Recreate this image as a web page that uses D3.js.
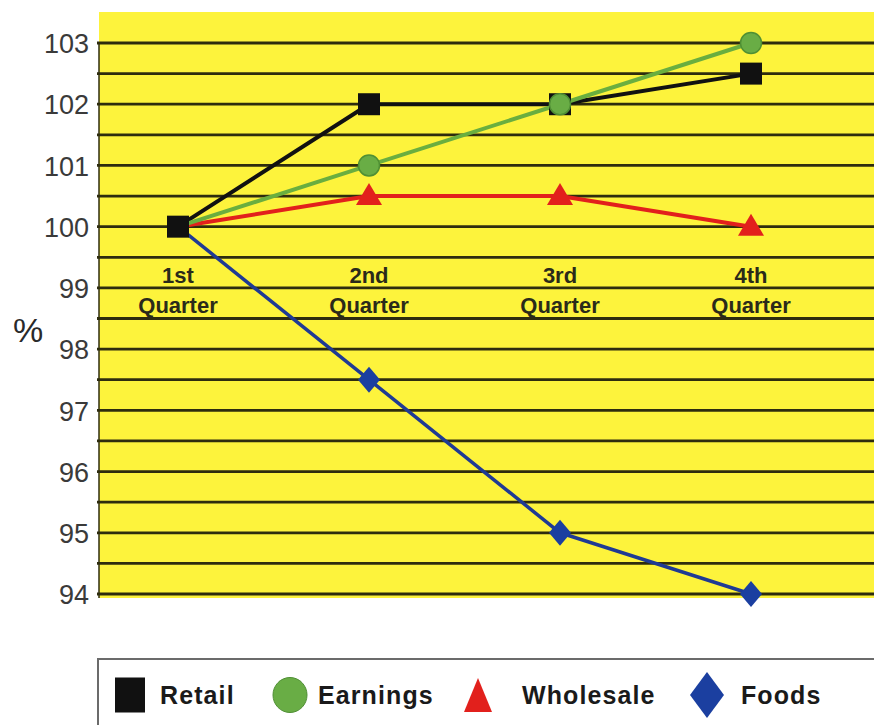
<!DOCTYPE html>
<html>
<head>
<meta charset="utf-8">
<script src="https://cdn.jsdelivr.net/npm/d3@7/dist/d3.min.js"></script>
<style>
  html, body { margin: 0; padding: 0; background: #fff; }
  svg { display: block; font-family: "Liberation Sans", Arial, Helvetica, sans-serif; }
</style>
</head>
<body>
<svg id="chart" width="874" height="725"></svg>
<script>
// Quarterly index values (%), first quarter = 100
const quarters = ["1st", "2nd", "3rd", "4th"];
const retail    = [100, 102, 102, 102.5];
const earnings  = [100, 101, 102, 103];
const wholesale = [100, 100.5, 100.5, 100];
const foods     = [100, 97.5, 95, 94];
const yTicks = [94, 95, 96, 97, 98, 99, 100, 101, 102, 103];
const gridStep = 0.5;

const series = [
  { name: "Retail",    values: retail,    color: "#111111", line: "#111111", shape: "square" },
  { name: "Earnings",  values: earnings,  color: "#69ad45", line: "#6aae3f", shape: "circle" },
  { name: "Wholesale", values: wholesale, color: "#e2201c", line: "#e2201c", shape: "triangle" },
  { name: "Foods",     values: foods,     color: "#1b3fa0", line: "#1f3a94", shape: "diamond" }
];

const svg = d3.select("#chart");
const plot = { left: 99, right: 874, top: 12, bottom: 598 };

const x = d3.scalePoint().domain(quarters).range([178, 751]);
const y = d3.scaleLinear().domain([94, 103]).range([594, 43]);

// Yellow plotting area
svg.append("rect")
  .attr("x", plot.left).attr("y", plot.top)
  .attr("width", plot.right - plot.left).attr("height", plot.bottom - plot.top)
  .attr("fill", "#fdf33c");

// Horizontal rules every half unit
const grid = d3.range(94, 103 + 1e-9, gridStep);
svg.append("g").selectAll("line").data(grid).join("line")
  .attr("x1", plot.left - 2).attr("x2", plot.right)
  .attr("y1", d => y(d)).attr("y2", d => y(d))
  .attr("stroke", "#2e2c0e").attr("stroke-width", 2.8);

// Left axis with labels
const yAxis = d3.axisLeft(y).tickValues(yTicks).tickSize(0).tickPadding(10).tickFormat(d3.format("d"));
const ag = svg.append("g").attr("transform", `translate(${plot.left},0)`).call(yAxis);
ag.select(".domain").attr("d", `M0,${y(103)}V${plot.bottom}`).attr("stroke", "#2e2c0e").attr("stroke-width", 1.5);
ag.selectAll("text").attr("font-size", 27).attr("fill", "#3a3a3a").attr("dy", "0.36em")
  .attr("font-family", "'Liberation Sans', Arial, sans-serif");

// "%" axis title
svg.append("text").attr("x", 28).attr("y", 342).attr("text-anchor", "middle")
  .attr("font-size", 34).attr("fill", "#2a2a2a").text("%");

// Quarter labels inside the plot
const ql = svg.append("g").selectAll("g").data(quarters).join("g")
  .attr("transform", d => `translate(${x(d)},0)`);
ql.append("text").attr("y", 283).attr("text-anchor", "middle")
  .attr("font-size", 22).attr("font-weight", "bold").attr("fill", "#2a2a1a").text(d => d);
ql.append("text").attr("y", 313).attr("text-anchor", "middle")
  .attr("font-size", 22).attr("font-weight", "bold").attr("fill", "#2a2a1a").text("Quarter");

// Lines
const lineGen = d3.line().x((d, i) => x(quarters[i])).y(d => y(d));
const drawOrder = [series[3], series[2], series[0], series[1]];
svg.append("g").selectAll("path").data(drawOrder).join("path")
  .attr("d", s => lineGen(s.values))
  .attr("fill", "none")
  .attr("stroke", s => s.line)
  .attr("stroke-width", s => s.name === "Foods" ? 3.5 : 4)
  .attr("stroke-linejoin", "round");

// Marker shapes
function markerPath(shape, w, h) {
  const a = w / 2, b = h / 2;
  switch (shape) {
    case "square":   return `M${-a},${-b}H${a}V${b}H${-a}Z`;
    case "circle":   return `M${-a},0A${a},${b} 0 1,0 ${a},0A${a},${b} 0 1,0 ${-a},0Z`;
    case "triangle": return `M0,${-b}L${a},${b}L${-a},${b}Z`;
    case "diamond":  return `M0,${-b}L${a},0L0,${b}L${-a},0Z`;
  }
}
const markerDims = { square: [22, 22], circle: [21, 21], triangle: [26, 22], diamond: [22, 26] };

// The shared starting point is shown once with the Retail marker
const markerOrder = [series[3], series[2], series[0], series[1]];
markerOrder.forEach(s => {
  const pts = s.values.map((v, i) => ({ v, i })).filter(p => s.name === "Retail" || p.i > 0);
  const [w, h] = markerDims[s.shape];
  const dy = s.shape === "triangle" ? -2 : 0;
  svg.append("g").selectAll("path").data(pts).join("path")
    .attr("transform", p => `translate(${x(quarters[p.i])},${y(p.v) + dy})`)
    .attr("d", markerPath(s.shape, w, h))
    .attr("fill", s.color)
    .attr("stroke", s.shape === "circle" ? "#4f8f34" : "none")
    .attr("stroke-width", 1.5);
});

// Legend
const lg = svg.append("g");
lg.append("rect").attr("x", 98).attr("y", 659).attr("width", 800).attr("height", 80)
  .attr("fill", "#fff").attr("stroke", "#6b6b6b").attr("stroke-width", 2);
const legendX = [130, 290, 478, 707];
const legendText = [160, 318, 522, 741];
const legendDims = { square: [30, 35], circle: [34, 35], triangle: [28, 34], diamond: [34, 46] };
series.forEach((s, i) => {
  const cy = 695;
  const [w, h] = legendDims[s.shape];
  lg.append("path").attr("transform", `translate(${legendX[i]},${cy})`)
    .attr("d", markerPath(s.shape, w, h))
    .attr("fill", s.color)
    .attr("stroke", s.shape === "circle" ? "#4f8f34" : "none");
  lg.append("text").attr("x", legendText[i]).attr("y", cy + 9)
    .attr("font-size", 25).attr("font-weight", "bold").attr("letter-spacing", 1.1)
    .attr("fill", "#1a1a1a").text(s.name);
});
</script>
</body>
</html>
